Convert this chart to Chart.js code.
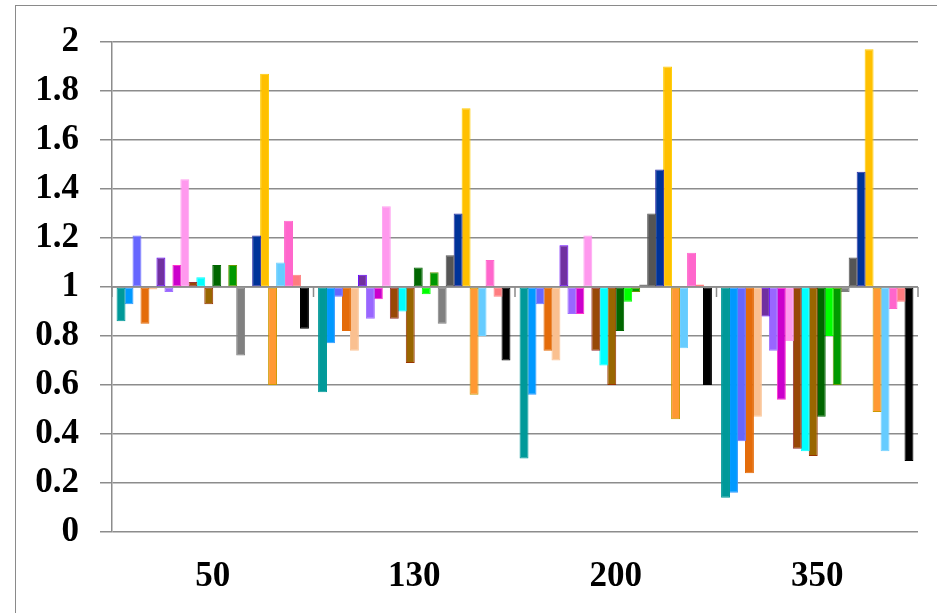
<!DOCTYPE html>
<html>
<head>
<meta charset="utf-8">
<script src="https://cdn.jsdelivr.net/npm/chart.js@4/dist/chart.umd.min.js"></script>
<style>
  html, body { margin: 0; padding: 0; background: #ffffff; overflow: hidden; }
  #frame { position: absolute; left: 15px; top: 5px; width: 1000px; height: 1000px; border: 1.5px solid #8a8a8a; box-sizing: border-box; }
  #c { position: absolute; left: 0; top: 0; }
</style>
</head>
<body>
<div id="frame"></div>
<canvas id="c" width="937" height="613"></canvas>
<script>
// ---- data ----
const categories = ["50", "130", "200", "350"];
const baseline = 1;
const yTicks = [0, 0.2, 0.4, 0.6, 0.8, 1, 1.2, 1.4, 1.6, 1.8, 2];

const s01 = [0.86, 0.57, 0.30, 0.14];
const s02 = [0.93, 0.77, 0.56, 0.16];
const s03 = [1.21, 0.96, 0.93, 0.37];
const s04 = [0.85, 0.82, 0.74, 0.24];
const s05 = [0.99, 0.74, 0.70, 0.47];
const s06 = [1.12, 1.05, 1.17, 0.88];
const s07 = [0.98, 0.87, 0.89, 0.74];
const s08 = [1.09, 0.95, 0.89, 0.54];
const s09 = [1.44, 1.33, 1.21, 0.78];
const s10 = [1.02, 0.87, 0.74, 0.34];
const s11 = [1.04, 0.90, 0.68, 0.33];
const s12 = [0.93, 0.69, 0.60, 0.31];
const s13 = [1.09, 1.08, 0.82, 0.47];
const s14 = [1.00, 0.97, 0.94, 0.80];
const s15 = [1.09, 1.06, 0.98, 0.60];
const s16 = [0.72, 0.85, 1.01, 0.98];
const s17 = [1.00, 1.13, 1.30, 1.12];
const s18 = [1.21, 1.30, 1.48, 1.47];
const s19 = [1.87, 1.73, 1.90, 1.97];
const s20 = [0.60, 0.56, 0.46, 0.49];
const s21 = [1.10, 0.80, 0.75, 0.33];
const s22 = [1.27, 1.11, 1.14, 0.91];
const s23 = [1.05, 0.96, 1.01, 0.94];
const s24 = [0.83, 0.70, 0.60, 0.29];

const seriesValues = [s01,s02,s03,s04,s05,s06,s07,s08,s09,s10,s11,s12,s13,s14,s15,s16,s17,s18,s19,s20,s21,s22,s23,s24];
const fillColors = ["#009999","#0099FF","#6666FF","#E46C0A","#FAC090","#7030A0","#9966FF","#CC00CC","#FF99EE","#984807","#00FFFF","#996600","#006600","#00FF00","#009900","#808080","#555555","#003399","#FFC000","#FF9933","#66CCFF","#FF66CC","#FF7C80","#000000"];
const edgeColors = ["#009999","#3399FF","#7777FF","#E46C0A","#FBC69A","#6600FF","#A070FF","#FF33CC","#FFA0F0","#993333","#00FFFF","#993300","#006600","#00FF00","#669900","#808080","#555555","#3333AA","#FFCC00","#CC9900","#70D0FF","#FF66CC","#FF8080","#000000"];

const gridColor = "#8c8c8c";
const labelFont = { family: "'Liberation Serif', 'Times New Roman', serif", size: 35, weight: "bold" };

const datasets = seriesValues.map((vals, i) => ({
  label: "S" + (i + 1),
  data: vals,
  base: baseline,
  backgroundColor: fillColors[i],
  borderColor: edgeColors[i],
  borderWidth: 1,
  borderSkipped: false,
  barPercentage: 1.12,
  categoryPercentage: 0.95
}));

const baselinePlugin = {
  id: "baselineAxis",
  beforeDatasetsDraw(chart) {
    const { ctx, chartArea, scales } = chart;
    const y1 = scales.y.getPixelForValue(baseline);
    const n = categories.length;
    const w = (chartArea.right - chartArea.left) / n;
    ctx.save();
    ctx.strokeStyle = gridColor;
    ctx.lineWidth = 1.5;
    ctx.beginPath();
    ctx.moveTo(chartArea.left, y1);
    ctx.lineTo(chartArea.right, y1);
    for (let k = 0; k <= n; k++) {
      const x = chartArea.left + k * w;
      ctx.moveTo(x, y1);
      ctx.lineTo(x, y1 + 10);
    }
    ctx.stroke();
    ctx.restore();
  }
};

new Chart(document.getElementById("c"), {
  type: "bar",
  data: { labels: categories, datasets },
  plugins: [baselinePlugin],
  options: {
    responsive: false,
    animation: false,
    layout: { padding: { top: 41, right: 19, left: 0, bottom: 0 } },
    plugins: { legend: { display: false }, tooltip: { enabled: false } },
    scales: {
      x: {
        grid: { display: false, drawTicks: false },
        border: { display: false },
        ticks: { color: "#000", font: labelFont, padding: 24, maxRotation: 0 },
        afterFit(scale) { scale.height = 81; }
      },
      y: {
        min: 0, max: 2,
        afterBuildTicks(scale) { scale.ticks = yTicks.map(v => ({ value: v })); },
        ticks: {
          color: "#000", font: labelFont, padding: 21,
          callback: (v) => String(Math.round(v * 10) / 10)
        },
        grid: { color: gridColor, lineWidth: 1.5, tickLength: 12, drawTicks: true, tickColor: gridColor },
        border: { display: true, color: gridColor, width: 1.5 },
        afterFit(scale) { scale.width = 112; }
      }
    }
  }
});
</script>
</body>
</html>
